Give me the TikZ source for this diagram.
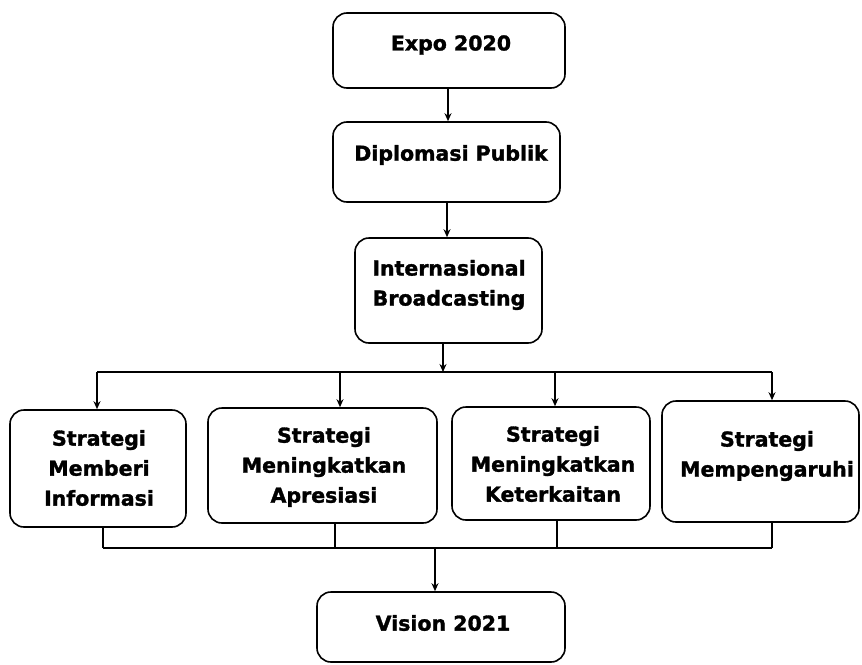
\documentclass[tikz,border=0pt]{standalone}
\usepackage{fontspec}
\setmainfont{DejaVu Sans}[BoldFeatures={FakeBold=1.5}]
\usetikzlibrary{arrows.meta}
\begin{document}
\begin{tikzpicture}[x=1pt,y=-1pt,
 box/.style={draw, line width=1.6pt, rounded corners=14pt, inner sep=0pt},
 lbl/.style={font=\fontsize{20.5}{30}\selectfont\bfseries, align=center, inner sep=0pt},
 link/.style={line width=1.6pt},
 arr/.style={line width=1.6pt, -{Stealth[length=8pt,width=7pt]}}]
\useasboundingbox (0,0) rectangle (862,664);
% boxes
\node[box, minimum width=232pt, minimum height=75pt] (expo) at (449,50.5) {};
\node[box, minimum width=227pt, minimum height=80pt] (dip) at (446.5,162) {};
\node[box, minimum width=187pt, minimum height=105pt] (intl) at (448.5,290.5) {};
\node[box, minimum width=176pt, minimum height=117pt] (s1) at (98,468.5) {};
\node[box, minimum width=229pt, minimum height=115pt] (s2) at (322.5,465.5) {};
\node[box, minimum width=198pt, minimum height=113pt] (s3) at (551,463.5) {};
\node[box, minimum width=197pt, minimum height=121pt] (s4) at (760.5,461.5) {};
\node[box, minimum width=248pt, minimum height=70pt] (vis) at (441,627) {};
% labels
\node[lbl] (expot) at (451,45) {Expo 2020};
\node[lbl] (dipt) at (451,155) {Diplomasi Publik};
\node[lbl] (intlt) at (449,285) {Internasional\\Broadcasting};
\node[lbl] (s1t) at (99,468) {Strategi\\Memberi\\Informasi};
\node[lbl] (s2t) at (324,467) {Strategi\\Meningkatkan\\Apresiasi};
\node[lbl] (s3t) at (553,464) {Strategi\\Meningkatkan\\Keterkaitan};
\node[lbl] (s4t) at (767,456) {Strategi\\Mempengaruhi};
\node[lbl] (vist) at (443,623) {Vision 2021};
% junction coordinates
\coordinate (ta) at (97,372);
\coordinate (tb) at (340,372);
\coordinate (tc) at (555,372);
\coordinate (td) at (772,372);
\coordinate (tm) at (443,372);
\coordinate (ba) at (103,548);
\coordinate (bb) at (335,548);
\coordinate (bc) at (557,548);
\coordinate (bd) at (772,548);
\coordinate (bm) at (435,548);
% connectors
\draw[arr] (expo.south -| 448,0) -- (dip.north -| 448,0);
\draw[arr] (dip.south -| 447,0) -- (intl.north -| 447,0);
\draw[arr] (intl.south -| tm) -- (tm);
\draw[link] (ta) -- (td);
\draw[arr] (ta) -- (ta |- s1.north);
\draw[arr] (tb) -- (tb |- s2.north);
\draw[arr] (tc) -- (tc |- s3.north);
\draw[arr] (td) -- (td |- s4.north);
\draw[link] (s1.south -| ba) -- (ba);
\draw[link] (s2.south -| bb) -- (bb);
\draw[link] (s3.south -| bc) -- (bc);
\draw[link] (s4.south -| bd) -- (bd);
\draw[link] (ba) -- (bd);
\draw[arr] (bm) -- (vis.north -| bm);
\end{tikzpicture}
\end{document}
